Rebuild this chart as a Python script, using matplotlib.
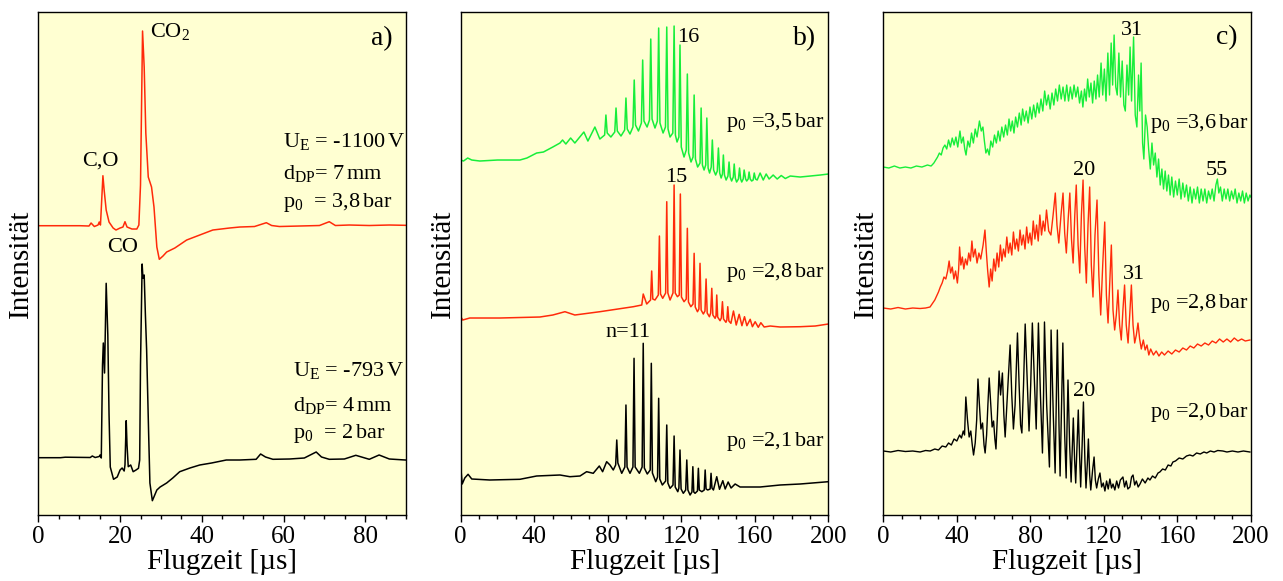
import matplotlib.pyplot as plt
from matplotlib.ticker import MultipleLocator

plt.rcParams['font.family'] = ['Liberation Serif', 'DejaVu Serif']
plt.rcParams['mathtext.fontset'] = 'custom'
plt.rcParams['mathtext.rm'] = 'Liberation Serif'
plt.rcParams['mathtext.it'] = 'Liberation Serif:italic'

RED = '#ff2a0a'
GREEN = '#16ee3a'
BG = '#ffffd2'

# --- a) CO2-Cluster bei zwei Extraktionsbedingungen -------------------------
a_red_t = [0.0, 10.2, 12.4, 12.9, 13.7, 14.6, 14.9, 15.2, 15.8, 16.1, 16.6, 17.3, 18.3,
           19.0, 20.0, 20.7, 21.2, 21.7, 22.9, 24.1, 24.6, 25.0, 25.5, 25.9, 26.3, 26.9,
           27.7, 28.3, 29.0, 29.6, 30.5, 31.4, 33.4, 36.3, 39.5, 42.7, 46.8, 49.3, 52.9,
           55.8, 57.1, 59.0, 63.9, 68.8, 71.2, 72.7, 76.1, 81.0, 85.9, 89.8]
a_red_i = [289.3, 289.3, 289.0, 292.0, 288.5, 290.0, 293.0, 290.0, 339.3, 325.0, 305.0,
           293.0, 287.0, 285.0, 287.0, 288.0, 293.3, 288.0, 286.0, 286.0, 290.0, 330.0,
           484.0, 448.0, 382.0, 338.0, 328.0, 308.0, 268.0, 255.7, 259.0, 263.0, 267.0,
           275.0, 280.0, 285.0, 287.0, 288.0, 288.5, 292.3, 289.5, 288.5, 289.0, 289.5,
           293.3, 289.5, 290.0, 289.5, 290.0, 289.7]

a_blk_t = [0.0, 5.4, 6.6, 12.7, 13.2, 13.9, 14.9, 15.1, 15.4, 15.7, 15.9, 16.2, 16.6,
           17.0, 17.3, 17.6, 18.4, 19.3, 20.0, 20.5, 21.0, 21.2, 21.5, 21.7, 22.0, 22.6,
           23.2, 23.9, 24.5, 24.8, 25.0, 25.4, 25.6, 25.9, 26.2, 26.5, 27.0, 27.3, 27.9,
           29.0, 29.8, 31.4, 32.9, 34.6, 37.1, 39.5, 42.4, 46.0, 49.3, 53.3, 54.4, 55.6,
           57.4, 61.5, 65.1, 68.0, 69.3, 71.2, 74.9, 77.7, 81.0, 83.4, 85.9, 89.8]
a_blk_i = [57.3, 57.3, 57.8, 57.5, 59.0, 57.5, 58.5, 60.0, 57.0, 150.0, 172.0, 142.0,
           231.7, 180.0, 100.0, 48.0, 35.7, 38.0, 45.0, 47.0, 44.0, 50.0, 94.3, 70.0,
           48.3, 50.0, 43.3, 45.0, 46.7, 55.0, 150.0, 251.0, 236.7, 240.0, 200.0, 165.0,
           80.0, 32.0, 14.3, 25.0, 28.0, 32.0, 37.0, 43.3, 47.0, 50.0, 52.0, 55.0, 55.0,
           55.7, 61.0, 58.0, 55.7, 56.0, 57.0, 63.0, 58.0, 55.7, 56.0, 59.7, 55.7, 60.0,
           56.0, 55.0]

# --- b) Clusterverteilungen, p0 = 3,5 / 2,8 / 2,1 bar  (t [us], Intensitaet) --
b_grn = [(0.0, 355), (1.5, 354), (3.8, 357), (6.0, 355), (10.4, 354), (20.0, 355),
         (32.2, 355), (36.0, 357), (41.3, 362), (45.0, 363), (50.1, 368), (54.0, 372),
         (55.4, 375), (57.2, 371), (59.8, 377), (62.1, 372), (67.0, 383), (69.2, 374),
         (73.0, 388), (75.7, 376), (78.3, 380), (79.0, 400), (79.7, 382), (81.7, 378),
         (83.8, 383), (84.5, 407), (85.2, 384), (87.2, 379), (89.2, 385), (89.9, 417),
         (90.6, 386), (92.1, 381), (93.7, 388), (94.4, 435), (95.1, 390), (96.7, 384),
         (98.3, 392), (99.0, 455), (99.7, 394), (101.4, 388), (102.7, 395), (103.4, 476),
         (104.1, 396), (105.7, 387), (107.0, 394), (107.7, 487), (108.4, 392),
         (110.1, 382), (111.4, 388), (112.1, 488), (112.8, 386), (113.9, 378),
         (115.4, 382), (116.1, 489), (116.8, 380), (117.7, 373), (118.7, 378),
         (119.3, 470), (120.0, 368), (121.5, 358), (122.7, 365), (123.3, 441),
         (124.0, 362), (125.3, 353), (126.4, 358), (127.0, 420), (127.7, 356),
         (128.9, 348), (130.2, 352), (130.8, 407), (131.5, 350), (132.4, 345),
         (133.3, 350), (133.9, 397), (134.6, 347), (135.4, 342), (136.3, 348),
         (136.9, 375), (137.6, 345), (138.7, 340), (139.6, 344), (140.2, 367),
         (140.9, 342), (141.7, 337), (142.4, 341), (142.9, 360), (143.5, 340),
         (144.4, 335), (145.4, 339), (146.0, 353), (146.6, 338), (147.4, 334),
         (148.3, 338), (148.8, 351), (149.4, 337), (150.1, 333), (151.1, 336),
         (151.7, 347), (152.3, 336), (152.9, 333), (153.7, 336), (154.2, 345),
         (155.0, 336), (155.6, 334), (156.4, 336), (156.9, 343), (157.5, 336),
         (158.3, 334), (159.1, 335), (159.7, 342), (160.4, 336), (161.3, 335),
         (162.9, 342), (164.6, 335), (166.2, 341), (167.8, 336), (170.0, 340),
         (172.2, 336), (174.4, 339.5), (176.6, 336.5), (179.3, 339), (184.7, 338),
         (190.2, 339), (195.6, 340), (200.0, 341)]

b_red = [(0.0, 198.3), (1.1, 195), (4.9, 197), (21.3, 197), (43.1, 198), (50.1, 200),
         (56.7, 203.3), (62.1, 200), (75.7, 203.3), (93.9, 208.3), (98.5, 210),
         (99.3, 221), (101.2, 211), (103.3, 215), (103.9, 244), (104.5, 216),
         (105.7, 215), (107.5, 220), (108.1, 279), (108.7, 221), (109.9, 216.7),
         (111.5, 222), (112.1, 313.3), (112.7, 222), (113.9, 215), (115.5, 222),
         (116.1, 330), (116.7, 222), (117.9, 218.3), (118.9, 220), (119.5, 321),
         (120.1, 218), (121.5, 213.3), (122.7, 216), (123.3, 286.7), (123.9, 213),
         (125.2, 208.3), (126.4, 211), (127.0, 261.7), (127.6, 208), (128.8, 203.3),
         (129.6, 206), (130.2, 251.7), (130.8, 205), (132.0, 201), (132.9, 204),
         (133.5, 236), (134.1, 202), (135.3, 198.3), (136.0, 202), (136.6, 226.7),
         (137.2, 200), (138.4, 196.7), (138.9, 199), (139.3, 220), (139.8, 198),
         (141.1, 194.3), (141.8, 197), (142.4, 213.3), (143.0, 196), (144.3, 192.7),
         (144.8, 195), (145.3, 208.3), (145.9, 194), (147.0, 191.7), (148.4, 204),
         (149.9, 190), (151.5, 200.7), (153.0, 189.3), (154.4, 198.3), (155.7, 189.3),
         (157.5, 195.7), (158.7, 188.3), (160.2, 193.3), (161.9, 187.7), (163.3, 192.3),
         (165.1, 188), (168.4, 189), (173.8, 188), (184.7, 188.3), (192.9, 189),
         (200.0, 191)]

b_blk = [(0.0, 48.3), (0.8, 31), (2.2, 37), (4.0, 40.7), (6.0, 36), (15.8, 35),
         (32.2, 35.7), (41.3, 39), (54.0, 40), (59.4, 38.3), (64.9, 39), (68.5, 43.3),
         (72.1, 41.7), (75.4, 49), (77.2, 43.3), (79.4, 53.3), (81.2, 50), (83.0, 45),
         (84.3, 50), (84.9, 75), (85.5, 52), (87.6, 41.7), (89.3, 48), (89.9, 110),
         (90.5, 48), (92.1, 41.7), (93.7, 48), (94.3, 156.7), (94.9, 48), (97.2, 41.7),
         (98.7, 48), (99.3, 171.7), (99.9, 47), (101.5, 41), (103.1, 45), (103.7, 151.7),
         (104.3, 42), (106.1, 33.3), (107.1, 38), (107.7, 116.7), (108.3, 36),
         (109.7, 30), (111.5, 34), (112.1, 90), (112.7, 32), (113.9, 26.7), (115.5, 30),
         (116.1, 79), (116.7, 28), (118.1, 23.3), (118.7, 27), (119.3, 65), (119.9, 26),
         (121.1, 21.7), (122.4, 25), (123.0, 55), (123.6, 25), (124.8, 20), (125.8, 23),
         (126.3, 48.3), (126.8, 23), (127.5, 21.7), (128.8, 24), (129.3, 46.7),
         (129.8, 25), (131.2, 23.3), (132.5, 25), (133.0, 45), (133.5, 26), (134.4, 25),
         (135.7, 26), (136.2, 41.7), (136.7, 27), (137.5, 25), (139.3, 38.3),
         (140.8, 25.7), (142.6, 34.3), (143.9, 26), (145.5, 33), (147.1, 27),
         (149.3, 31), (152.0, 28), (162.9, 28), (173.8, 30), (184.7, 31), (200.0, 33.3)]

# --- c) Clusterverteilungen, p0 = 3,6 / 2,8 / 2,0 bar -----------------------
c_grn_t = [0, 3, 6, 9, 12, 15, 18, 21, 24, 26, 27.5, 28.5, 29.5, 30.5, 31.5, 32.5, 33.5,
           34.5, 35.5, 36.5, 37.5, 38.5, 39.5, 40.5, 41.7, 42.5, 43.5, 44.3, 45, 46, 47,
           48, 49, 50, 51, 52.3, 53.3, 54.2, 55, 55.8, 56.7, 57.6, 58.5, 59.5, 60.5, 61.5,
           62.5, 63.5, 64.5, 65.5, 66.5, 67.5, 68.4, 69.3, 70.2, 71.1, 72, 73, 74, 75,
           75.8, 76.8, 77.8, 78.8, 79.8, 80.8, 81.8, 82.8, 83.8, 84.8, 85.8, 86.8, 87.8,
           88.8, 89.8, 90.8, 91.8, 92.8, 93.8, 94.8, 95.8, 96.8, 97.8, 98.8, 99.8, 100.8,
           101.8, 102.8, 103.8, 104.8, 105.8, 106.8, 107.8, 108.6, 109.5, 110.4, 111.2,
           112.1, 113, 113.9, 114.8, 115.7, 116.6, 117.5, 118.5, 119.4, 120.3, 121.2,
           122.2, 123.1, 124, 124.8, 125.6, 126.5, 127.3, 128.2, 129.1, 130, 130.9, 131.7,
           132.6, 133.5, 134.3, 135.1, 136.2, 137.1, 138, 138.9, 139.6, 140.3, 141.1,
           141.8, 142.7, 143.6, 144.4, 145.3, 146.2, 147.1, 148, 148.9, 149.8, 150.7,
           151.6, 152.5, 153.4, 154.3, 155.2, 156.1, 157, 158, 159, 160, 161, 162, 163,
           164, 165, 166, 167, 168, 169, 170, 171, 172, 173, 174, 175, 176, 177, 178, 179,
           180, 181, 181.8, 182.6, 183.5, 184.5, 185.5, 186.5, 187.5, 188.5, 189.5, 190.5,
           191.5, 192.5, 193.5, 194.5, 195.5, 196.5, 197.5, 198.5, 199.5, 200]
c_grn_i = [348, 347, 349, 347, 348, 347, 349, 348, 350, 349, 352, 355, 358, 362, 360, 367,
           370, 366, 375, 368, 377, 370, 378, 368, 384, 372, 378, 366, 360, 374, 368, 382,
           372, 386, 378, 394, 384, 388, 374, 362, 366, 360, 374, 368, 380, 372, 384, 374,
           388, 378, 390, 380, 396, 384, 394, 382, 398, 388, 402, 390, 406, 394, 404, 392,
           408, 396, 410, 398, 412, 402, 416, 404, 424, 410, 420, 406, 422, 410, 426, 414,
           430, 416, 428, 414, 430, 414, 428, 416, 430, 418, 428, 412, 424, 408, 426, 414,
           436, 418, 432, 412, 434, 416, 440, 418, 452, 420, 446, 414, 462, 420, 472, 430,
           480, 428, 420, 462, 418, 454, 410, 404, 450, 420, 468, 414, 478, 400, 388, 440,
           404, 452, 372, 356, 400, 388, 366, 346, 372, 350, 362, 338, 356, 330, 346, 326,
           344, 324, 340, 320, 338, 318, 334, 320, 336, 316, 332, 318, 330, 314, 328, 312,
           326, 316, 328, 312, 326, 314, 326, 312, 324, 316, 326, 314, 330, 336, 322, 328,
           314, 326, 316, 326, 314, 324, 316, 326, 312, 322, 314, 324, 312, 322, 314, 320,
           318]

c_red_t = [0, 4, 8, 12, 16, 20, 23, 25.4, 26.5, 28, 29, 30, 31, 32, 33, 34, 35, 35.8,
           36.6, 37.5, 38.4, 39.3, 40.3, 41, 41.5, 42.2, 43, 43.8, 44.7, 45.6, 46.5, 47.4,
           48.2, 49, 50, 51, 52, 53, 54.3, 55.3, 56.1, 56.8, 57.6, 58.4, 59.2, 60.1, 61,
           61.9, 62.8, 63.7, 64.5, 65.4, 66.3, 67.2, 68.1, 69, 69.9, 70.8, 71.7, 72.6, 73.5,
           74.4, 75.3, 76.2, 77.1, 78, 78.9, 79.8, 80.7, 81.6, 82.5, 83.4, 84.3, 85.2, 86.1,
           87, 87.9, 88.8, 90, 91.2, 92.4, 93.6, 94.5, 95.5, 96.7, 97.8, 98.7, 99.6, 100.6,
           101.5, 102.4, 103.3, 104.2, 105, 106, 106.9, 107.8, 108.7, 109.6, 110.5, 111.4,
           112.3, 113.2, 114.1, 115.2, 116.3, 117.3, 118.3, 119.4, 120.5, 121.4, 122.3,
           123.2, 124.1, 125, 125.9, 126.8, 127.7, 128.6, 129.5, 130.4, 131.3, 132.2, 133.2,
           134.1, 135, 135.9, 136.8, 137.7, 138.6, 139.5, 140.4, 141.5, 142.5, 143.5, 144.5,
           145.5, 147, 148.5, 150, 151.5, 153, 155, 157, 159, 161, 163, 165, 167, 169, 171,
           173, 175, 177, 179, 181, 183, 185, 187, 189, 191, 193, 195, 197, 199.5]
c_red_i = [207, 206, 207.5, 206, 207, 206.5, 207, 208, 211, 215, 219, 223, 228, 232, 238,
           236, 244, 254, 242, 248, 236, 244, 232, 246, 268, 250, 258, 246, 256, 250, 262,
           254, 274, 258, 266, 252, 262, 256, 270, 285, 262, 244, 228, 246, 234, 256, 244,
           262, 248, 270, 254, 266, 258, 278, 262, 272, 260, 283, 266, 276, 264, 285, 270,
           280, 266, 288, 272, 282, 270, 294, 276, 290, 274, 300, 280, 294, 284, 305, 284,
           280, 300, 322, 290, 272, 300, 322, 282, 262, 296, 322, 276, 252, 300, 330, 270,
           242, 300, 335, 268, 232, 290, 328, 250, 218, 280, 315, 240, 200, 250, 293, 220,
           192, 230, 270, 205, 185, 200, 225, 190, 175, 205, 230, 190, 172, 200, 230, 190,
           172, 180, 192, 176, 166, 175, 165, 170, 160, 166, 160, 164, 159, 163, 160, 164,
           161, 165, 163, 167, 165, 169, 167, 171, 169, 172, 170, 174, 172, 176, 173, 176,
           173, 177, 174, 176, 174, 175]

c_blk_t = [0, 4, 8, 12, 16, 20, 23, 25.5, 28, 30, 32, 34, 35.5, 37, 38.5, 40, 41.5, 42.5,
           43.5, 44.2, 44.9, 45.8, 46.7, 47.6, 48.4, 49.1, 50, 50.8, 51.5, 52.3, 53.1, 54,
           54.8, 55.4, 56.2, 56.9, 57.6, 58.4, 59.2, 60, 60.7, 61.3, 62.1, 63, 63.8, 64.8,
           65.6, 66.3, 67.2, 68.1, 69, 69.9, 70.8, 71.7, 72.4, 73, 73.9, 74.7, 75.4, 76.3,
           77.2, 78.2, 79.3, 80.2, 81.1, 82.1, 83.2, 83.8, 84.4, 85.5, 86.6, 87.2, 87.7,
           88.9, 90.4, 91, 91.3, 92.5, 93.5, 94.1, 94.7, 95.6, 96.2, 97, 97.7, 98.7, 99.5,
           100, 100.5, 101.4, 102.2, 102.9, 103.4, 104.1, 104.7, 105.4, 106.1, 106.8, 107.4,
           108.2, 108.9, 109.7, 110.3, 111, 111.6, 112.3, 112.9, 113.9, 114.7, 115.4, 116.1,
           117, 117.9, 118.8, 119.7, 120.6, 121.5, 122.4, 123.3, 124.2, 125, 126, 127, 128,
           129, 130.4, 131.3, 132.2, 133.1, 134.2, 135.1, 135.9, 136.8, 137.7, 138.7, 139.7,
           141, 142.5, 144, 145.1, 146.5, 148, 149.5, 150.5, 152, 153.5, 155, 156.5, 157.6,
           159, 161, 163, 165, 166.8, 168.5, 170.5, 172.5, 174.5, 176, 178, 180, 182, 184.8,
           187, 190, 193, 196, 199.5]
c_blk_i = [64, 63, 64.5, 63.5, 64, 63, 64.5, 64, 66, 65, 69, 68, 72, 70, 76, 74, 80, 77,
           84, 80, 118, 95, 78, 84, 70, 60, 72, 95, 136, 110, 86, 92, 70, 62, 80, 110, 137,
           112, 88, 94, 76, 66, 100, 144, 120, 142, 100, 78, 110, 140, 170, 120, 86, 110,
           150, 182, 130, 90, 82, 130, 191, 140, 84, 130, 192, 140, 86, 140, 192, 120, 62,
           120, 193, 110, 48, 120, 185, 100, 42, 110, 185, 90, 39, 110, 172, 80, 37, 90,
           135, 70, 33, 70, 97, 55, 32, 70, 105, 60, 28, 70, 113, 55, 27, 50, 76, 40, 25,
           45, 58, 35, 27, 36, 42, 28, 32, 24, 34, 26, 36, 27, 31, 25, 34, 27, 35, 38, 28,
           34, 26, 28, 38, 40, 30, 34, 28, 31, 36, 32, 37, 35, 39, 37, 42, 43, 46, 45, 50,
           49, 53, 54, 57, 56, 59, 60, 59, 62, 61, 63, 62, 64, 63, 64.5, 64, 63, 64, 63, 64,
           63]


def style_axes(ax, xmax, major, minor):
    ax.set_facecolor(BG)
    ax.set_xlim(0, xmax)
    ax.set_ylim(0, 503)
    ax.set_yticks([])
    ax.xaxis.set_major_locator(MultipleLocator(major))
    ax.xaxis.set_minor_locator(MultipleLocator(minor))
    ax.tick_params(axis='x', which='major', direction='out', length=5, width=1,
                   labelsize=18, pad=3)
    ax.tick_params(axis='x', which='minor', direction='out', length=3, width=1)
    for sp in ax.spines.values():
        sp.set_linewidth(1.0)
    ax.set_xlabel('Flugzeit [µs]', fontsize=21, labelpad=1)
    ax.set_ylabel('Intensität', fontsize=21)
    ax.yaxis.set_label_coords(-0.012, 0.5)


def label(ax, x, y, s, size=16):
    ax.text(x, y, s, fontsize=size, ha='left', va='baseline')


def plot_pairs(ax, pairs, color, lw=1.1):
    t, i = zip(*pairs)
    ax.plot(t, i, color=color, lw=lw)


fig = plt.figure(figsize=(12.83, 5.81), dpi=100)
ax_a = fig.add_axes([0.0299, 0.1136, 0.2866, 0.8657])
ax_b = fig.add_axes([0.3591, 0.1136, 0.2865, 0.8657])
ax_c = fig.add_axes([0.6885, 0.1136, 0.2864, 0.8657])

# a)
style_axes(ax_a, 90, 20, 5)
ax_a.plot(a_red_t, a_red_i, color=RED, lw=1.1)
ax_a.plot(a_blk_t, a_blk_i, color='black', lw=1.1)
label(ax_a, 81.5, 470, 'a)', 20)
label(ax_a, 27.3, 478, 'CO$_2$')
label(ax_a, 10.7, 349, 'C,O')
label(ax_a, 16.8, 263, 'CO')
label(ax_a, 59.8, 368, r'U$_\mathrm{E}$ = -1100$\,$V')
label(ax_a, 59.8, 336, r'd$_\mathrm{DP}$= 7$\,$mm')
label(ax_a, 59.8, 308, r'p$_0$  = 3,8$\,$bar')
label(ax_a, 62.4, 139, r'U$_\mathrm{E}$ = -793$\,$V')
label(ax_a, 62.4, 104, r'd$_\mathrm{DP}$= 4$\,$mm')
label(ax_a, 62.4, 77, r'p$_0$  = 2$\,$bar')

# b)
style_axes(ax_b, 200, 40, 10)
plot_pairs(ax_b, b_grn, GREEN)
plot_pairs(ax_b, b_red, RED)
plot_pairs(ax_b, b_blk, 'black')
label(ax_b, 180.9, 470, 'b)', 20)
label(ax_b, 117.7, 473, '16')
label(ax_b, 111.2, 333, '15')
label(ax_b, 78.5, 178, 'n=11')
label(ax_b, 144.4, 388, r'p$_0$ =3,5$\,$bar')
label(ax_b, 144.4, 238, r'p$_0$ =2,8$\,$bar')
label(ax_b, 144.4, 69, r'p$_0$ =2,1$\,$bar')

# c)
style_axes(ax_c, 200, 40, 10)
ax_c.plot(c_grn_t, c_grn_i, color=GREEN, lw=1.0)
ax_c.plot(c_red_t, c_red_i, color=RED, lw=1.0)
ax_c.plot(c_blk_t, c_blk_i, color='black', lw=1.0)
label(ax_c, 181, 471, 'c)', 20)
label(ax_c, 129.3, 480, '31')
label(ax_c, 175.5, 340, '55')
label(ax_c, 103.3, 340, '20')
label(ax_c, 130.4, 236, '31')
label(ax_c, 103.3, 119, '20')
label(ax_c, 145.1, 387, r'p$_0$ =3,6$\,$bar')
label(ax_c, 145.1, 207, r'p$_0$ =2,8$\,$bar')
label(ax_c, 145.1, 98, r'p$_0$ =2,0$\,$bar')

fig.savefig('out.png', dpi=100)
